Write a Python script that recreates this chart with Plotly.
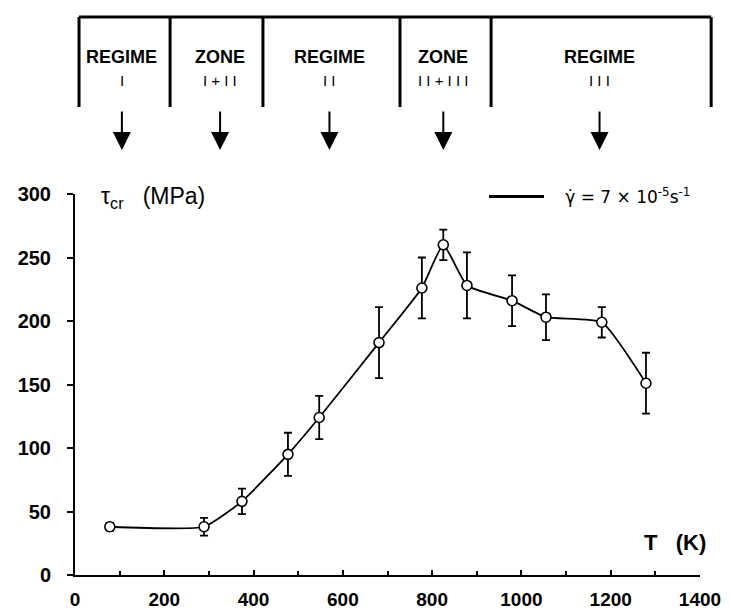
import plotly.graph_objects as go

# ---- data ----
T_K = [78, 289, 374, 477, 547, 681, 777, 825, 878, 979, 1055, 1180, 1279]
tau_cr = [38, 38, 58, 95, 124, 183, 226, 260, 228, 216, 203, 199, 151]
tau_err = [3, 7, 10, 17, 17, 28, 24, 12, 26, 20, 18, 12, 24]

x_ticks = [0, 200, 400, 600, 800, 1000, 1200, 1400]
y_ticks = [0, 50, 100, 150, 200, 250, 300]

# regime diagram (temperatures, K)
regime_bounds = [9, 213, 421, 728, 932, 1425]
regime_centres = [105, 325, 570, 825, 1175]
regime_titles = ["REGIME", "ZONE", "REGIME", "ZONE", "REGIME"]
regime_numerals = ["I", "I + I I", "I I", "I I + I I I", "I I I"]

legend_label = "   γ̇ = 7 × 10<sup>-5</sup>s<sup>-1</sup>"

# ---- layout geometry ----
W, H = 731, 612
ML, MR, MT, MB = 75, 10, 10, 37
plot_w = W - ML - MR
plot_h = H - MT - MB
x_end_px = 700          # pixel where T=1400 sits
y_top_px = 194          # pixel where tau=300 sits
main_xdom = (x_end_px - ML) / plot_w
main_ydom = (H - MB - y_top_px) / plot_h
top_dom_lo = (H - MB - 160) / plot_h

fig = go.Figure()

fig.add_trace(go.Scatter(
    x=T_K, y=tau_cr, mode="lines+markers",
    line=dict(color="black", width=1.8, shape="spline", smoothing=0.45),
    marker=dict(symbol="circle", size=10, color="white",
                line=dict(color="black", width=1.6)),
    error_y=dict(type="data", array=tau_err, color="black",
                 thickness=1.8, width=4),
    showlegend=False, xaxis="x", yaxis="y",
))

# legend entry
fig.add_trace(go.Scatter(
    x=[None], y=[None], mode="lines", name=legend_label,
    line=dict(color="black", width=3), xaxis="x", yaxis="y",
))

# regime bracket (top panel)
top_y = 143
bot_y = 53
bx, by = [], []
bx += [regime_bounds[0], regime_bounds[-1], None]
by += [top_y, top_y, None]
for b in regime_bounds:
    bx += [b, b, None]
    by += [top_y, bot_y, None]
fig.add_trace(go.Scatter(
    x=bx, y=by, mode="lines", line=dict(color="black", width=3),
    showlegend=False, xaxis="x2", yaxis="y2", hoverinfo="skip",
))

annotations = []
for xc, t, n in zip(regime_centres, regime_titles, regime_numerals):
    annotations.append(dict(
        x=xc, y=103, xref="x2", yref="y2", text=t, showarrow=False,
        font=dict(family="Liberation Sans", size=18, color="black", weight="bold"),
        xanchor="center", yanchor="middle"))
    annotations.append(dict(
        x=xc, y=80, xref="x2", yref="y2", text=n, showarrow=False,
        font=dict(family="Liberation Sans", size=15, color="black"),
        xanchor="center", yanchor="middle"))
    annotations.append(dict(
        x=xc, y=10, xref="x2", yref="y2", text="", showarrow=True,
        ax=0, ay=-40, arrowhead=2, arrowsize=1.8, arrowwidth=2,
        arrowcolor="black"))

annotations.append(dict(
    x=(99 - ML) / plot_w, y=(H - MB - 197) / plot_h, xref="paper", yref="paper",
    text="τ<sub>cr</sub>   (MPa)", showarrow=False, xanchor="left", yanchor="middle",
    font=dict(family="Liberation Sans", size=23, color="black")))
annotations.append(dict(
    x=(708 - ML) / plot_w, y=(H - MB - 542) / plot_h, xref="paper", yref="paper",
    text="T   (K)", showarrow=False, xanchor="right", yanchor="middle",
    font=dict(family="Liberation Sans", size=22, color="black", weight="bold")))

xtickfont = dict(family="Liberation Sans", size=19, color="black", weight="bold")
ytickfont = dict(family="Liberation Sans", size=20, color="black", weight="bold")

fig.update_layout(
    width=W, height=H,
    margin=dict(l=ML, r=MR, t=MT, b=MB, autoexpand=False),
    paper_bgcolor="white", plot_bgcolor="white",
    showlegend=True,
    legend=dict(x=(484 - ML) / plot_w, y=(H - MB - 197) / plot_h,
                xanchor="left", yanchor="middle", bgcolor="rgba(0,0,0,0)",
                itemwidth=55,
                font=dict(family="DejaVu Sans", size=17, color="black")),
    xaxis=dict(domain=[0, main_xdom], range=[0, 1400], tickvals=x_ticks,
               ticks="inside", ticklen=5, tickwidth=1.5, tickcolor="black",
               minor=dict(dtick=100, ticks="inside", ticklen=4, tickcolor="black"),
               showline=True, linewidth=2, linecolor="black",
               showgrid=False, zeroline=False, tickfont=xtickfont,
               ticklabelstandoff=6, anchor="y", automargin=False),
    yaxis=dict(domain=[0, main_ydom], range=[0, 300], tickvals=y_ticks,
               ticks="outside", ticklen=6, tickwidth=1.5, tickcolor="black",
               showline=True, linewidth=2, linecolor="black",
               showgrid=False, zeroline=False, tickfont=ytickfont,
               ticklabelstandoff=12, anchor="x", automargin=False),
    xaxis2=dict(domain=[0, 1], range=[0, 1400 / main_xdom], visible=False,
                anchor="y2", showgrid=False, zeroline=False, automargin=False),
    yaxis2=dict(domain=[top_dom_lo, 1], range=[0, 150], visible=False,
                anchor="x2", showgrid=False, zeroline=False, automargin=False),
    annotations=annotations,
)

fig.write_html("out.html",
               config={"displayModeBar": False},
               post_script="document.body.style.margin='0';"
                           "document.body.style.padding='0';")
